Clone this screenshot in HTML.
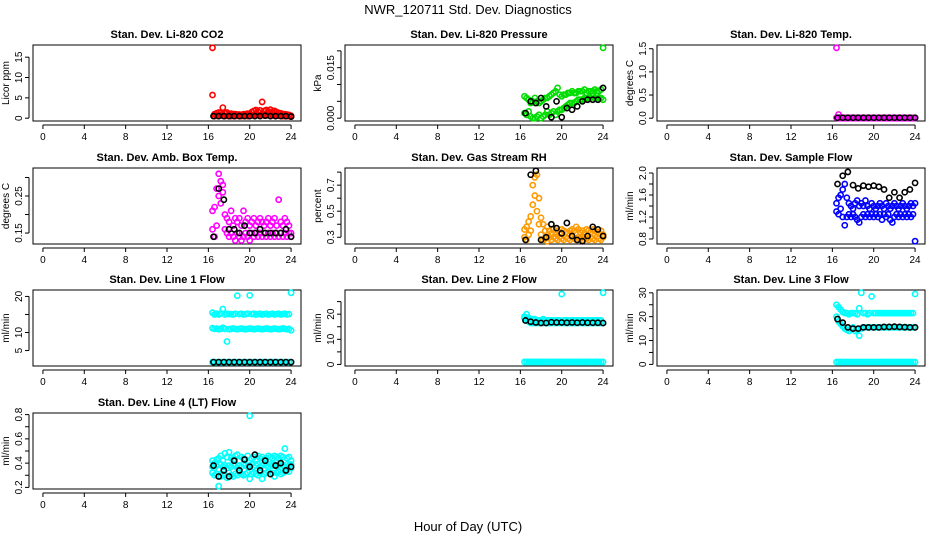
<!DOCTYPE html>
<html><head><meta charset="utf-8"><style>
body{margin:0;background:#fff;}
svg{display:block;font-family:"Liberation Sans",sans-serif;}
</style></head><body>
<svg id="chart" width="936" height="540" viewBox="0 0 936 540">
<text x="468" y="14" text-anchor="middle" font-size="13">NWR_120711  Std. Dev. Diagnostics</text>
<text x="468" y="531" text-anchor="middle" font-size="13">Hour of Day (UTC)</text>
</svg>
<script>
const tC = [16.4,16.6,16.8,17.0,17.2,17.4,17.6,17.8,18.0,18.2,18.4,18.6,18.8,19.0,19.2,19.4,19.6,19.8,20.0,20.2,20.4,20.6,20.8,21.0,21.2,21.4,21.6,21.8,22.0,22.2,22.4,22.6,22.8,23.0,23.2,23.4,23.6,23.8,24.0];
const tK = [16.5,17.0,17.5,18.0,18.5,19.0,19.5,20.0,20.5,21.0,21.5,22.0,22.5,23.0,23.5,24.0];
const xTicks = [0,4,8,12,16,20,24];

const titles = ["Stan. Dev. Li-820 CO2","Stan. Dev. Li-820 Pressure","Stan. Dev. Li-820 Temp.","Stan. Dev. Amb. Box Temp.","Stan. Dev. Gas Stream RH","Stan. Dev. Sample Flow","Stan. Dev. Line 1 Flow","Stan. Dev. Line 2 Flow","Stan. Dev. Line 3 Flow","Stan. Dev. Line 4 (LT) Flow"];
const yLabels = ["Licor ppm","kPa","degrees C","degrees C","percent","ml/min","ml/min","ml/min","ml/min","ml/min"];
const colors = ["#ff0000","#00dd00","#ff00ff","#ff00ff","#ff9900","#0000ff","#00ffff","#00ffff","#00ffff","#00ffff"];
const yMin = [0,0,0,0.128,0.27,0.76,1.5,0.5,0.5,0.21];
const yMax = [17.3,0.0209,1.52,0.318,0.81,2.04,21,28.5,30,0.79];
const yTicks = [[0,5,10,15],[0,0.005,0.01,0.015,0.02],[0,0.5,1,1.5],[0.15,0.2,0.25,0.3],[0.3,0.4,0.5,0.6,0.7,0.8],[0.8,1.0,1.2,1.4,1.6,1.8,2.0],[5,10,15,20],[0,5,10,15,20,25],[0,5,10,15,20,25,30],[0.2,0.3,0.4,0.5,0.6,0.7,0.8]];
const yTickLabels = [["0","5","10","15"],["0.000","","","0.015",""],["0.0","0.5","1.0","1.5"],["0.15","","0.25",""],["0.3","","0.5","","0.7",""],["0.8","","1.2","","1.6","","2.0"],["5","10","","20"],["0","","10","","20",""],["0","","10","","20","","30"],["0.2","","0.4","","0.6","","0.8"]];

const co2A = [17.3,1.0,1.2,1.4,1.3,2.6,1.2,1.4,1.0,1.1,1.0,1.0,0.9,0.9,0.8,1.0,1.0,1.1,1.0,1.5,1.8,2.0,1.6,1.9,4.0,1.8,2.0,1.7,2.1,1.6,1.8,1.5,1.3,1.2,1.0,1.0,0.9,0.8,0.6];
const co2B = [5.7,0.5,0.6,0.5,0.7,0.6,0.5,0.6,0.5,0.5,0.6,0.5,0.6,0.5,0.5,0.6,0.6,0.5,0.6,0.7,0.8,0.7,0.8,0.7,0.8,0.7,0.8,0.7,0.8,0.7,0.8,0.7,0.6,0.6,0.5,0.5,0.5,0.5,0.4];
const co2K = [0.5,0.5,0.5,0.5,0.5,0.5,0.5,0.5,0.5,0.5,0.6,0.5,0.5,0.5,0.5,0.4];

const presA = [0.0065,0.0060,0.0055,0.0045,0.0050,0.0060,0.0050,0.0045,0.0050,0.0055,0.0060,0.0060,0.0065,0.0070,0.0075,0.0080,0.0090,0.0070,0.0065,0.0070,0.0070,0.0075,0.0075,0.0080,0.0075,0.0075,0.0080,0.0080,0.0080,0.0085,0.0075,0.0080,0.0080,0.0080,0.0085,0.0080,0.0080,0.0085,0.0209];
const presB = [0.0015,0.0010,0.0020,0.0005,0.0000,0.0000,0.0005,0.0010,0.0000,0.0005,0.0010,0.0020,0.0010,0.0015,0.0020,0.0010,0.0020,0.0025,0.0025,0.0030,0.0035,0.0040,0.0045,0.0045,0.0045,0.0050,0.0055,0.0055,0.0055,0.0060,0.0060,0.0060,0.0060,0.0065,0.0060,0.0065,0.0060,0.0060,0.0055];
const presK = [0.0015,0.0050,0.0045,0.0060,0.0035,0.0003,0.0050,0.0003,0.0030,0.0025,0.0035,0.0050,0.0055,0.0055,0.0055,0.0090];

const tempA = [1.52,0.08,0.02,0.01,0.01,0.01,0.01,0.01,0.01,0.01,0.01,0.01,0.01,0.01,0.01,0.01,0.01,0.01,0.01,0.01,0.01,0.01,0.01,0.01,0.01,0.01,0.01,0.01,0.01,0.01,0.01,0.01,0.01,0.01,0.01,0.01,0.01,0.01,0.01];
const tempB = [0.01,0.0,0.0,0.0,0.0,0.0,0.0,0.0,0.0,0.0,0.0,0.0,0.0,0.0,0.0,0.0,0.0,0.0,0.0,0.0,0.0,0.0,0.0,0.0,0.0,0.0,0.0,0.0,0.0,0.0,0.0,0.0,0.0,0.0,0.0,0.0,0.0,0.0,0.0];
const tempK = [0.01,0.01,0.01,0.01,0.01,0.01,0.01,0.01,0.01,0.01,0.01,0.01,0.01,0.01,0.01,0.01];

const boxA = [0.21,0.22,0.27,0.31,0.29,0.28,0.20,0.19,0.18,0.21,0.17,0.19,0.18,0.19,0.17,0.21,0.18,0.19,0.17,0.18,0.19,0.17,0.18,0.19,0.18,0.17,0.18,0.19,0.17,0.18,0.19,0.17,0.24,0.18,0.17,0.19,0.18,0.17,0.15];
const boxB = [0.16,0.14,0.17,0.25,0.23,0.26,0.16,0.15,0.14,0.15,0.14,0.13,0.15,0.14,0.13,0.14,0.15,0.14,0.13,0.15,0.14,0.15,0.14,0.15,0.14,0.15,0.14,0.15,0.14,0.15,0.14,0.15,0.14,0.15,0.14,0.15,0.14,0.15,0.14];
const boxK = [0.14,0.27,0.24,0.16,0.16,0.15,0.17,0.15,0.15,0.16,0.15,0.15,0.15,0.15,0.16,0.14];

const rhA = [0.36,0.38,0.42,0.46,0.70,0.76,0.78,0.60,0.45,0.40,0.35,0.38,0.35,0.33,0.36,0.34,0.35,0.33,0.36,0.35,0.34,0.33,0.35,0.36,0.35,0.38,0.36,0.34,0.35,0.33,0.36,0.35,0.34,0.36,0.35,0.34,0.33,0.35,0.32];
const rhB = [0.30,0.28,0.32,0.35,0.55,0.62,0.50,0.40,0.32,0.28,0.29,0.27,0.30,0.28,0.30,0.29,0.28,0.30,0.29,0.28,0.30,0.29,0.28,0.30,0.29,0.28,0.30,0.29,0.28,0.30,0.29,0.28,0.30,0.29,0.28,0.30,0.29,0.28,0.30];
const rhK = [0.28,0.78,0.81,0.28,0.30,0.40,0.37,0.33,0.41,0.31,0.28,0.27,0.31,0.38,0.36,0.31];

const sfA = [1.45,1.55,1.60,1.70,1.80,1.55,1.45,1.40,1.35,1.45,1.50,1.40,1.45,1.40,1.50,1.40,1.35,1.45,1.40,1.35,1.40,1.45,1.40,1.35,1.45,1.40,1.35,1.40,1.45,1.40,1.35,1.40,1.45,1.40,1.35,1.40,1.45,1.40,1.45];
const sfB = [1.30,1.25,1.35,1.20,1.05,1.20,1.25,1.20,1.25,1.20,1.15,1.10,1.20,1.25,1.20,1.25,1.20,1.25,1.20,1.25,1.20,1.25,1.15,1.25,1.20,1.25,1.15,1.10,1.20,1.25,1.20,1.25,1.20,1.25,1.20,1.25,1.20,1.25,0.76];
const sfK = [1.80,1.95,2.02,1.78,1.72,1.77,1.75,1.77,1.75,1.70,1.55,1.65,1.55,1.65,1.70,1.82];

const l1A = [15.5,15.0,15.2,15.0,15.3,16.5,15.0,15.2,15.1,15.1,15.0,15.2,20.2,15.1,15.2,15.0,15.1,15.2,20.3,15.1,15.2,15.0,15.1,15.2,15.0,15.1,15.2,15.0,15.1,15.2,15.0,15.1,15.2,15.0,15.1,15.2,15.0,15.1,21.0];
const l1B = [11.2,11.0,11.1,10.9,11.0,11.3,11.0,7.5,10.9,11.0,11.1,11.0,10.9,11.0,11.1,11.0,10.9,11.0,11.1,11.0,10.9,11.0,11.1,11.0,10.9,11.0,11.1,11.0,10.9,11.0,11.1,11.0,10.9,11.0,11.1,11.0,10.9,11.0,10.6];
const l1C = [1.8,1.8,1.8,1.8,1.8,1.8,1.8,1.8,1.8,1.8,1.8,1.8,1.8,1.8,1.8,1.8,1.8,1.8,1.8,1.8,1.8,1.8,1.8,1.8,1.8,1.8,1.8,1.8,1.8,1.8,1.8,1.8,1.8,1.8,1.8,1.8,1.8,1.8,1.8];
const l1K = [1.8,1.8,1.8,1.8,1.8,1.8,1.8,1.8,1.8,1.8,1.8,1.8,1.8,1.8,1.8,1.8];

const l2A = [19.0,20.0,18.5,18.0,18.0,18.0,17.5,17.5,17.5,18.0,17.5,17.5,17.5,17.5,17.5,17.5,17.5,17.5,28.0,17.5,17.5,17.5,17.5,17.5,17.5,17.5,17.5,17.5,17.5,17.5,17.5,17.5,17.5,17.5,17.5,17.5,17.5,17.5,28.5];
const l2B = [18.5,18.0,17.0,16.5,16.5,16.5,16.5,16.5,16.5,16.5,16.5,16.5,16.5,16.5,16.5,16.5,16.5,16.5,16.5,16.5,16.5,16.5,16.5,16.5,16.5,16.5,16.5,16.5,16.5,16.5,16.5,16.5,16.5,16.5,16.5,16.5,16.5,16.5,16.5];
const l2C = [1.0,1.0,1.0,1.0,1.0,1.0,1.0,1.0,1.0,1.0,1.0,1.0,1.0,1.0,1.0,1.0,1.0,1.0,1.0,1.0,1.0,1.0,1.0,1.0,1.0,1.0,1.0,1.0,1.0,1.0,1.0,1.0,1.0,1.0,1.0,1.0,1.0,1.0,1.0];
const l2K = [17.5,17.0,16.7,16.5,16.5,16.8,16.7,16.7,16.6,16.7,16.6,16.7,16.6,16.6,16.6,16.5];

const l3A = [25.0,24.0,23.0,22.0,21.5,21.5,21.0,21.5,21.5,21.5,21.0,23.5,30.0,21.5,21.5,21.0,21.5,28.5,21.5,21.5,21.5,21.5,21.5,21.5,21.5,21.5,21.5,21.5,21.5,21.5,21.5,21.5,21.5,21.5,21.5,21.5,21.5,21.5,29.5];
const l3B = [20.0,18.0,17.0,16.0,15.0,14.5,14.0,15.0,15.5,14.0,14.5,12.0,15.0,15.5,15.5,15.5,15.5,15.5,15.5,15.5,15.5,15.5,15.5,15.5,15.5,15.5,15.5,15.5,15.5,15.5,15.5,15.5,15.5,15.5,15.5,15.5,15.5,15.5,15.5];
const l3C = [1.0,1.0,1.0,1.0,1.0,1.0,1.0,1.0,1.0,1.0,1.0,1.0,1.0,1.0,1.0,1.0,1.0,1.0,1.0,1.0,1.0,1.0,1.0,1.0,1.0,1.0,1.0,1.0,1.0,1.0,1.0,1.0,1.0,1.0,1.0,1.0,1.0,1.0,1.0];
const l3K = [19.0,17.5,15.5,15.0,15.0,15.5,15.5,15.5,15.5,15.7,15.7,15.8,15.7,15.6,15.5,15.5];

const l4A = [0.42,0.40,0.43,0.44,0.46,0.42,0.48,0.45,0.49,0.44,0.43,0.46,0.47,0.42,0.45,0.44,0.43,0.46,0.79,0.44,0.45,0.43,0.46,0.44,0.45,0.43,0.44,0.46,0.45,0.44,0.46,0.45,0.44,0.46,0.45,0.52,0.44,0.45,0.42];
const l4B = [0.32,0.30,0.31,0.21,0.29,0.31,0.30,0.28,0.32,0.30,0.29,0.31,0.30,0.32,0.31,0.30,0.31,0.32,0.27,0.31,0.32,0.31,0.30,0.32,0.27,0.31,0.32,0.33,0.31,0.32,0.29,0.32,0.33,0.31,0.32,0.33,0.34,0.33,0.36];
const l4C = [0.37,0.36,0.38,0.35,0.39,0.37,0.38,0.36,0.38,0.37,0.39,0.38,0.36,0.38,0.37,0.39,0.38,0.37,0.38,0.39,0.37,0.38,0.39,0.37,0.38,0.39,0.38,0.37,0.39,0.38,0.39,0.37,0.38,0.39,0.38,0.37,0.39,0.38,0.39];
const l4K = [0.38,0.29,0.34,0.29,0.42,0.34,0.43,0.37,0.47,0.34,0.42,0.31,0.38,0.40,0.34,0.37];

const colorSeries = [[co2A,co2B],[presA,presB],[tempA,tempB],[boxA,boxB],[rhA,rhB],[sfA,sfB],[l1A,l1B,l1C],[l2A,l2B,l2C],[l3A,l3B,l3C],[l4A,l4B,l4C]];
const blackSeries = [co2K,presK,tempK,boxK,rhK,sfK,l1K,l2K,l3K,l4K];

const NS = "http://www.w3.org/2000/svg";
const svg = document.getElementById('chart');
const colLeft = [33,345,657], rowTop = [45,168,290,413], W = 268, H = 76;
function mk(tag, attrs, parent){const e=document.createElementNS(NS,tag);for(const k in attrs)e.setAttribute(k,attrs[k]);parent.appendChild(e);return e;}

for (let p = 0; p < 10; p++) {
  const L = colLeft[p % 3], T = rowTop[Math.floor(p / 3)];
  const g = mk('g', {}, svg);
  
  
  const xs = v => L + (v + 0.96) / 25.92 * W;
  const pad = (yMax[p] - yMin[p]) * 0.04;
  const lo = yMin[p] - pad, hi = yMax[p] + pad;
  const ys = v => T + H - (v - lo) / (hi - lo) * H;

  const ttl = mk('text', {x: L + W / 2, y: T - 7, 'text-anchor': 'middle', 'font-size': 11, 'font-weight': 'bold'}, g);
  ttl.textContent = titles[p];
  
  

  const box = mk('rect', {x: L, y: T, width: W, height: H, fill: 'none', stroke: '#000', 'stroke-width': 1}, g);
  
  

  const xa = mk('g', {}, g);
  
  
  mk('line', {x1: xs(xTicks[0]), x2: xs(xTicks[xTicks.length - 1]), y1: T + H + 4, y2: T + H + 4, stroke: '#000'}, xa);
  xTicks.forEach(t => {
    mk('line', {x1: xs(t), x2: xs(t), y1: T + H + 4, y2: T + H + 8, stroke: '#000'}, xa);
    const tx = mk('text', {x: xs(t), y: T + H + 19, 'text-anchor': 'middle', 'font-size': 10}, xa);
    tx.textContent = t;
    
    
  });

  const ya = mk('g', {}, g);
  
  
  const yt = yTicks[p];
  mk('line', {x1: L - 4, x2: L - 4, y1: ys(yt[0]), y2: ys(yt[yt.length - 1]), stroke: '#000'}, ya);
  yt.forEach((t, i) => {
    mk('line', {x1: L - 8, x2: L - 4, y1: ys(t), y2: ys(t), stroke: '#000'}, ya);
    if (yTickLabels[p][i]) {
      const tx = mk('text', {x: L - 11, y: ys(t), 'text-anchor': 'middle', 'font-size': 10, transform: 'rotate(-90 ' + (L - 11) + ' ' + ys(t) + ')'}, ya);
      tx.textContent = yTickLabels[p][i];
      
      
    }
  });
  const yl = mk('text', {x: L - 24, y: T + H / 2, 'text-anchor': 'middle', 'font-size': 10, transform: 'rotate(-90 ' + (L - 24) + ' ' + (T + H / 2) + ')'}, g);
  yl.textContent = yLabels[p];
  
  

  colorSeries[p].forEach(arr => {
    const n = Math.min(arr.length, tC.length);
    for (let i = 0; i < n; i++) {
      const c = mk('circle', {cx: xs(tC[i]), cy: ys(arr[i]), r: 2.6, fill: 'none', stroke: colors[p], 'stroke-width': 1.6}, g);
      
      
    }
  });
  const k = blackSeries[p];
  for (let i = 0; i < Math.min(k.length, tK.length); i++) {
    const c = mk('circle', {cx: xs(tK[i]), cy: ys(k[i]), r: 2.6, fill: 'none', stroke: '#000', 'stroke-width': 1.6}, g);
    
    
  }
}
</script>
</body></html>
